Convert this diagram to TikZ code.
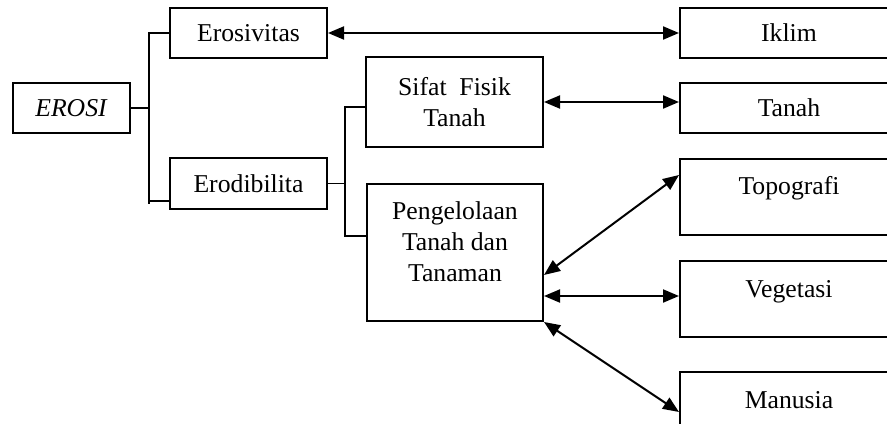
\documentclass[tikz,border=0pt]{standalone}
\usepackage{fontspec}
\setmainfont{Liberation Serif}
\usepackage{tikz}
\usetikzlibrary{arrows.meta}

\tikzset{
  box/.style={draw, line width=1pt, fill=white, inner sep=0pt, minimum height=25pt},
  topbox/.style={box, text height=18pt, text depth=20pt, minimum height=38pt},
  link/.style={line width=1pt, {Triangle[length=8pt,width=6.5pt]}-{Triangle[length=8pt,width=6.5pt]}},
  bracket/.style={line width=0.9pt}
}

\begin{document}
\begin{tikzpicture}[x=0.5pt, y=-0.5pt, font=\fontsize{12.85}{15.5}\selectfont]
  \useasboundingbox (0,0) rectangle (887,423);
  \clip (0,0) rectangle (887,423);
  \node[box, minimum width=58.5pt] (erosi) at (71.5,108) {\textit{EROSI}};
  \node[box, minimum width=78.5pt] (erosivitas) at (248.5,33) {Erosivitas};
  \node[box, minimum width=78.5pt, minimum height=25.5pt] (erodibilita) at (248.5,183.5) {Erodibilita};
  \node[box, minimum width=88.5pt, minimum height=45pt, align=center] (sifat) at (454.5,102) {Sifat\ \ Fisik\\Tanah};
  \node[box, minimum width=88pt, minimum height=68.5pt, text height=17.5pt, text depth=51pt] (kelola) at (455,252.5)
    {\begin{tabular}[t]{@{}c@{}}Pengelolaan\\Tanah dan\\Tanaman\end{tabular}};
  \node[box, minimum width=109pt] (iklim) at (789,33) {Iklim};
  \node[box, minimum width=109pt] (tanah) at (789,108) {Tanah};
  \node[topbox, minimum width=109pt] (topografi) at (789,196.5) {Topografi};
  \node[topbox, minimum width=109pt] (vegetasi) at (789,299) {Vegetasi};
  \node[topbox, minimum width=109pt] (manusia) at (789,410) {Manusia};
  \draw[bracket] (erosivitas.west) -- ++(-10pt,0) coordinate (fork1) -- ([yshift=3pt]fork1 |- erodibilita.south);
  \draw[bracket] ([yshift=4.5pt]erodibilita.south west) -- ([yshift=4.5pt]fork1 |- erodibilita.south);
  \draw[bracket] (erosi.east) -- (erosi.east -| fork1);
  \draw[bracket] ([yshift=-2.5pt]sifat.west) -- ++(-10pt,0) coordinate (fork2) |- ([yshift=8.25pt]kelola.west);
  \draw[bracket] (erodibilita.east) -- (erodibilita.east -| fork2);
  \draw[link] (erosivitas.east) -- (iklim.west);
  \draw[link] (sifat.east) -- (sifat.east -| tanah.west);
  \draw[link] ([yshift=-11.25pt]kelola.east) -- ([yshift=10.75pt]topografi.west);
  \draw[link] ([yshift=-21.75pt]kelola.east) -- ([yshift=-21.75pt]kelola.east -| vegetasi.west);
  \draw[link] (kelola.south east) -- ([yshift=-1pt]manusia.west);
\end{tikzpicture}
\end{document}
